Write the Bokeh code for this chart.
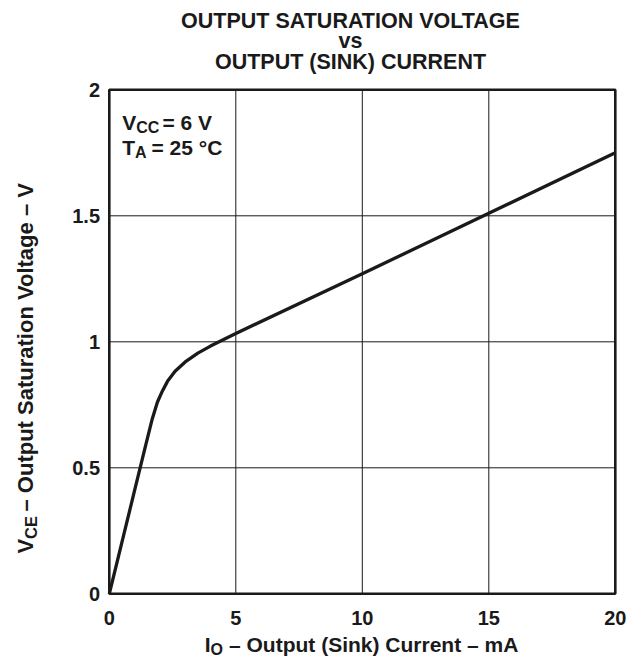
import math
from bokeh.plotting import figure
from bokeh.models import Range1d, Label
from bokeh.core.properties import value
from bokeh.embed import file_html
from bokeh.resources import INLINE

# ---- data ----
current_ma = [0, 0.5, 1.0, 1.5, 1.7, 1.9, 2.1, 2.3, 2.6, 3.0, 3.5, 4.0, 4.5, 5, 10, 15, 20]
vce_sat = [0, 0.205, 0.41, 0.615, 0.695, 0.76, 0.805, 0.843, 0.883, 0.92, 0.955, 0.983, 1.008, 1.033, 1.27, 1.51, 1.75]
x_ticks = [0, 5, 10, 15, 20]
x_tick_labels = ["0", "5", "10", "15", "20"]
y_ticks = [0, 0.5, 1, 1.5, 2]
y_tick_labels = ["0", "0.5", "1", "1.5", "2"]
title_lines = ["OUTPUT SATURATION VOLTAGE", "vs", "OUTPUT (SINK) CURRENT"]

FONT = "Liberation Sans"
INK = "#1a1a1a"

W, H = 631, 660
X0, SX = 108.8, 25.3      # pixel of x=0, pixels per mA
Y0, SY = 593.3, 252.0     # pixel of y=0, pixels per V

def dx(px):
    return (px - X0) / SX

def dy(py):
    return (Y0 - py) / SY

p = figure(width=W, height=H, output_backend="svg", toolbar_location=None,
           x_range=Range1d(dx(0), dx(W)), y_range=Range1d(dy(H), dy(0)),
           x_axis_type=None, y_axis_type=None,
           min_border_left=0, min_border_right=0, min_border_top=0, min_border_bottom=0)
p.outline_line_color = None
p.background_fill_color = "white"
p.border_fill_color = "white"

xmin, xmax = x_ticks[0], x_ticks[-1]
ymin, ymax = y_ticks[0], y_ticks[-1]

# grid
p.segment(x0=x_ticks[1:-1], y0=[ymin] * 3, x1=x_ticks[1:-1], y1=[ymax] * 3,
          line_color=INK, line_width=1)
p.segment(x0=[xmin] * 3, y0=y_ticks[1:-1], x1=[xmax] * 3, y1=y_ticks[1:-1],
          line_color=INK, line_width=1)

# curve
p.line(current_ma, vce_sat, line_color=INK, line_width=3.3, line_join="round")

# frame
p.quad(left=[xmin], right=[xmax], bottom=[ymin], top=[ymax], fill_color=None,
       line_color=INK, line_width=2.6)

# tick labels
p.text(x=x_ticks, y=[dy(617)] * len(x_ticks), text=x_tick_labels,
       text_font=value(FONT), text_font_style="bold", text_font_size="20px",
       text_align="center", text_baseline="middle", text_color=INK)
p.text(x=[dx(99.5)] * len(y_ticks), y=y_ticks, text=y_tick_labels,
       text_font=value(FONT), text_font_style="bold", text_font_size="20px",
       text_align="right", text_baseline="middle", text_color=INK)

def lab(px, py, text, size=21, align="left", angle=0.0):
    p.add_layout(Label(x=dx(px), y=dy(py), text=text, text_font=FONT, text_font_style="bold",
                       text_font_size=f"{size}px", text_align=align, text_baseline="middle",
                       text_color=INK, angle=angle))

# title
lab(350, 20, title_lines[0], size=21.5, align="center")
lab(350, 40.5, title_lines[1], size=21.5, align="center")
lab(350, 61, title_lines[2], size=21.5, align="center")

# conditions
lab(121.7, 122, "V")
lab(135.7, 127, "CC", size=16)
lab(162, 122, "= 6 V")
lab(121.7, 147, "T")
lab(134.5, 152, "A", size=16)
lab(151, 147, "= 25 \u00b0C")

# x axis label
lab(204.3, 644, "I")
lab(210.1, 649, "O", size=16)
lab(228.5, 644, "\u2013 Output (Sink) Current \u2013 mA")

# y axis label (rotated, reading upward)
a = math.pi / 2
lab(25, 553, "V", size=22, angle=a)
lab(30, 538.5, "CE", size=16.5, angle=a)
lab(25, 511, "\u2013 Output Saturation Voltage \u2013 V", size=22, angle=a)

open("out.html", "w").write(file_html(p, INLINE))
